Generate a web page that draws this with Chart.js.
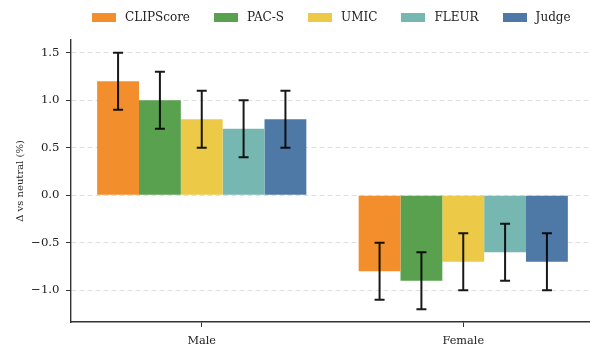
<!DOCTYPE html>
<html>
<head>
<meta charset="utf-8">
<script src="https://cdn.jsdelivr.net/npm/chart.js@4/dist/chart.umd.min.js"></script>
<style>
html,body{margin:0;padding:0;background:#fff;overflow:hidden;}
#wrap{width:596px;height:347px;}
</style>
</head>
<body>
<div id="wrap"><canvas id="c" width="596" height="347"></canvas></div>
<script>
const categories = ["Male", "Female"];
const seriesNames = ["CLIPScore", "PAC-S", "UMIC", "FLEUR", "Judge"];
const clipScore = [1.2, -0.8];
const pacS = [1.0, -0.9];
const umic = [0.8, -0.7];
const fleur = [0.7, -0.6];
const judge = [0.8, -0.7];
const clipScoreErr = [0.3, 0.3];
const pacSErr = [0.3, 0.3];
const umicErr = [0.3, 0.3];
const fleurErr = [0.3, 0.3];
const judgeErr = [0.3, 0.3];
const yTicks = [-1.0, -0.5, 0.0, 0.5, 1.0, 1.5];
const yTitle = "Δ vs neutral (%)";

const colors = ["#F28E2B", "#59A14F", "#EDC948", "#76B7B2", "#4E79A7"];
const values = [clipScore, pacS, umic, fleur, judge];
const errors = [clipScoreErr, pacSErr, umicErr, fleurErr, judgeErr];

const FONT = "'DejaVu Serif', serif";

// legend swatches (24x9 rectangles)
const swatches = colors.map(c => {
  const cv = document.createElement('canvas');
  cv.width = 24; cv.height = 9;
  const g = cv.getContext('2d');
  g.fillStyle = c; g.fillRect(0, 0, 24, 9);
  return cv;
});

const errorBarPlugin = {
  id: 'errorBars',
  afterDraw(chart) {
    const ctx = chart.ctx;
    const ys = chart.scales.y;
    ctx.save();
    ctx.strokeStyle = 'rgba(0,0,0,0.9)';
    ctx.lineWidth = 2;
    chart.data.datasets.forEach((ds, i) => {
      const meta = chart.getDatasetMeta(i);
      meta.data.forEach((el, j) => {
        const v = ds.data[j], e = ds.err[j];
        const x = el.x;
        const y1 = ys.getPixelForValue(v - e);
        const y2 = ys.getPixelForValue(v + e);
        ctx.beginPath();
        ctx.moveTo(x, y1); ctx.lineTo(x, y2);
        ctx.moveTo(x - 5, y1); ctx.lineTo(x + 5, y1);
        ctx.moveTo(x - 5, y2); ctx.lineTo(x + 5, y2);
        ctx.stroke();
      });
    });
    ctx.restore();
  }
};

const LEG_PAD = 21;
const layoutPlugin = {
  id: 'layoutFix',
  beforeLayout(chart) {
    const lg = chart.legend;
    if (lg && !lg._patched) {
      const f = lg.fit;
      lg.fit = function () { f.call(this); this.height = 40; };
      lg._patched = true;
    }
  },
  afterLayout(chart) {
    const lg = chart.legend;
    if (lg) {
      lg.top = -9.5;
      lg.left = 89 - LEG_PAD;
    }
  }
};

new Chart(document.getElementById('c'), {
  type: 'bar',
  data: {
    labels: categories,
    datasets: seriesNames.map((n, i) => ({
      label: n,
      data: values[i],
      err: errors[i],
      backgroundColor: colors[i],
      borderWidth: 0,
      categoryPercentage: 0.8,
      barPercentage: 1.0
    }))
  },
  options: {
    responsive: false,
    animation: false,
    devicePixelRatio: 1,
    layout: { padding: { top: 0, right: 2, bottom: 0, left: 0 } },
    plugins: {
      legend: {
        position: 'top',
        align: 'start',
        labels: {
          usePointStyle: true,
          pointStyleWidth: 30,
          boxHeight: 12,
          padding: LEG_PAD,
          color: '#222',
          font: { family: FONT, size: 12 },
          generateLabels(chart) {
            const items = Chart.defaults.plugins.legend.labels.generateLabels(chart);
            items.forEach((it, i) => { it.pointStyle = swatches[i]; it.lineWidth = 0; });
            return items;
          }
        }
      },
      tooltip: { enabled: false }
    },
    scales: {
      x: {
        offset: true,
        grid: { display: true, drawOnChartArea: false, drawTicks: true, tickLength: 5, offset: false, tickColor: '#333', tickWidth: 1 },
        border: { display: true, color: '#333', width: 1.4 },
        ticks: { color: '#222', padding: 7, font: { family: FONT, size: 11.3 } },
        afterFit(scale) { scale.height = 25; }
      },
      y: {
        z: 1,
        min: -1.335,
        max: 1.635,
        afterBuildTicks(scale) { scale.ticks = yTicks.map(v => ({ value: v })); },
        grid: {
          color: 'rgba(176,176,176,0.45)',
          lineWidth: 0.9,
          drawTicks: true,
          tickLength: 5,
          tickColor: '#333',
          tickWidth: 1,
          tickBorderDash: []
        },
        border: { display: true, color: '#333', width: 1.4, dash: [5, 3] },
        ticks: {
          color: '#222',
          padding: 6.5,
          font: { family: FONT, size: 11.7 },
          callback: (v) => (v < 0 ? '\u2212' : '') + Math.abs(v).toFixed(1)
        },
        title: {
          display: true,
          text: yTitle,
          color: '#222',
          font: { family: FONT, size: 10 },
          padding: { top: 14, bottom: 0 }
        },
        afterFit(scale) { scale.width = 71; }
      }
    }
  },
  plugins: [errorBarPlugin, layoutPlugin]
});
</script>
</body>
</html>
